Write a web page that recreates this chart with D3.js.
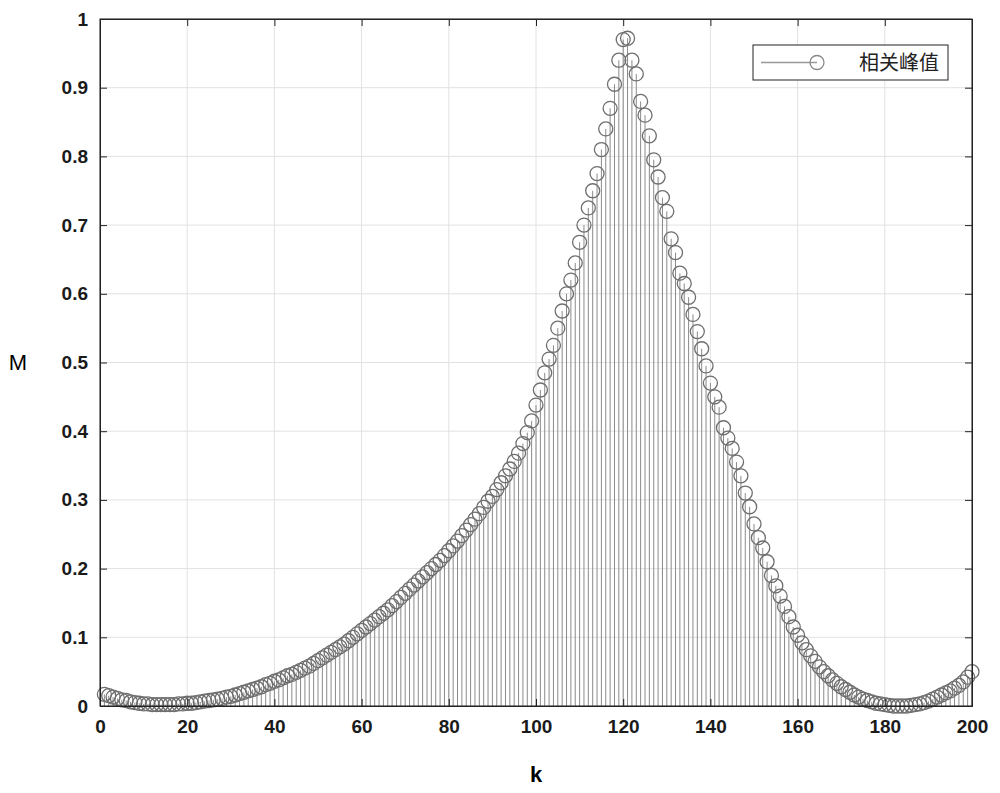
<!DOCTYPE html>
<html><head><meta charset="utf-8">
<script src="https://cdn.jsdelivr.net/npm/d3@7"></script>
<style>body{margin:0;background:#fff}</style>
</head><body>
<svg id="chart" width="1000" height="793"></svg>
<script>
// correlation peak values for k = 1..200
const values = [
  0.017,0.015,0.013,0.011,0.009,0.008,0.006,0.005,0.004,0.003,
  0.003,0.002,0.002,0.002,0.002,0.002,0.002,0.003,0.003,0.004,
  0.004,0.005,0.006,0.007,0.008,0.009,0.010,0.011,0.013,0.014,
  0.016,0.018,0.020,0.022,0.024,0.026,0.028,0.031,0.033,0.036,
  0.038,0.041,0.044,0.046,0.049,0.052,0.055,0.058,0.062,0.066,
  0.070,0.074,0.078,0.082,0.086,0.090,0.095,0.100,0.105,0.110,
  0.115,0.120,0.125,0.130,0.135,0.140,0.146,0.152,0.158,0.164,
  0.170,0.176,0.182,0.188,0.194,0.200,0.206,0.212,0.219,0.226,
  0.233,0.240,0.248,0.256,0.264,0.272,0.280,0.289,0.298,0.305,
  0.315,0.325,0.335,0.345,0.356,0.368,0.382,0.398,0.415,0.438,
  0.460,0.485,0.505,0.525,0.550,0.575,0.600,0.620,0.645,0.675,
  0.700,0.725,0.750,0.775,0.810,0.840,0.870,0.905,0.940,0.970,
  0.972,0.940,0.920,0.880,0.860,0.830,0.795,0.770,0.740,0.720,
  0.680,0.660,0.630,0.615,0.595,0.570,0.545,0.520,0.495,0.470,
  0.450,0.435,0.405,0.390,0.375,0.355,0.335,0.310,0.290,0.265,
  0.245,0.230,0.210,0.190,0.175,0.160,0.145,0.130,0.115,0.103,
  0.092,0.082,0.073,0.065,0.057,0.050,0.044,0.038,0.033,0.028,
  0.024,0.020,0.016,0.013,0.010,0.008,0.006,0.004,0.003,0.002,
  0.001,0.000,0.000,0.000,0.000,0.001,0.002,0.003,0.005,0.007,
  0.010,0.013,0.016,0.019,0.022,0.026,0.030,0.035,0.042,0.050
];
const xTicks = [0,20,40,60,80,100,120,140,160,180,200];
const yTicks = [0,0.1,0.2,0.3,0.4,0.5,0.6,0.7,0.8,0.9,1];
const legendLabel = "相关峰值";

const svg = d3.select("#chart");
const margin = { top: 19, right: 28, bottom: 87, left: 100 };
const width = 1000 - margin.left - margin.right;
const height = 793 - margin.top - margin.bottom;
const g = svg.append("g").attr("transform", `translate(${margin.left},${margin.top})`);

const x = d3.scaleLinear().domain([0, 200]).range([0, width]);
const y = d3.scaleLinear().domain([0, 1]).range([height, 0]);

// grid
g.append("g").selectAll("line").data(xTicks).enter().append("line")
  .attr("x1", d => x(d)).attr("x2", d => x(d)).attr("y1", 0).attr("y2", height)
  .attr("stroke", "#e2e2e2");
g.append("g").selectAll("line").data(yTicks).enter().append("line")
  .attr("y1", d => y(d)).attr("y2", d => y(d)).attr("x1", 0).attr("x2", width)
  .attr("stroke", "#e2e2e2");

const data = values.map((v, i) => ({ k: i + 1, v }));

// stems
g.append("g").selectAll("line").data(data).enter().append("line")
  .attr("x1", d => x(d.k)).attr("x2", d => x(d.k))
  .attr("y1", y(0)).attr("y2", d => y(d.v))
  .attr("stroke", "#8a8a8a").attr("stroke-width", 1);

// markers
g.append("g").selectAll("circle").data(data).enter().append("circle")
  .attr("cx", d => x(d.k)).attr("cy", d => y(d.v)).attr("r", 7)
  .attr("fill", "none").attr("stroke", "#6e6e6e").attr("stroke-width", 1.3);

// axes
const fmt = d => d3.format("~g")(d);
const xAxis = g.append("g").attr("transform", `translate(0,${height})`)
  .call(d3.axisBottom(x).tickValues(xTicks).tickSize(-7).tickPadding(14).tickFormat(fmt));
const yAxis = g.append("g")
  .call(d3.axisLeft(y).tickValues(yTicks).tickSize(-7).tickPadding(12).tickFormat(fmt));
g.append("g").attr("transform", `translate(0,0)`)
  .call(d3.axisTop(x).tickValues(xTicks).tickSize(-7).tickFormat(""));
g.append("g").attr("transform", `translate(${width},0)`)
  .call(d3.axisRight(y).tickValues(yTicks).tickSize(-7).tickFormat(""));
svg.selectAll(".domain").attr("stroke", "#222");
svg.selectAll(".tick line").attr("stroke", "#222");
[xAxis, yAxis].forEach(a => a.selectAll("text")
  .attr("font-family", "Liberation Sans, Arial, sans-serif")
  .attr("font-size", 19).attr("font-weight", "bold").attr("fill", "#1a1a1a"));
g.append("rect").attr("width", width).attr("height", height)
  .attr("fill", "none").attr("stroke", "#222");

// labels
svg.append("text").attr("x", margin.left + width / 2).attr("y", 782)
  .attr("text-anchor", "middle").attr("font-family", "Liberation Sans, Arial, sans-serif")
  .attr("font-size", 22).attr("font-weight", "bold").text("k");
svg.append("text").attr("x", 18).attr("y", 370)
  .attr("text-anchor", "middle").attr("font-family", "Liberation Sans, Arial, sans-serif")
  .attr("font-size", 22).text("M");

// legend
const lg = svg.append("g").attr("transform", "translate(753,45)");
lg.append("rect").attr("width", 195).attr("height", 35)
  .attr("fill", "#fff").attr("stroke", "#222");
lg.append("line").attr("x1", 8).attr("x2", 64).attr("y1", 17.5).attr("y2", 17.5)
  .attr("stroke", "#999").attr("stroke-width", 1.5);
lg.append("circle").attr("cx", 64).attr("cy", 17.5).attr("r", 7)
  .attr("fill", "none").attr("stroke", "#888").attr("stroke-width", 1.3);
lg.append("text").attr("x", 106).attr("y", 25)
  .attr("font-family", "Noto Sans CJK SC").attr("font-size", 20).attr("fill", "#222")
  .text(legendLabel);
</script>
</body></html>
